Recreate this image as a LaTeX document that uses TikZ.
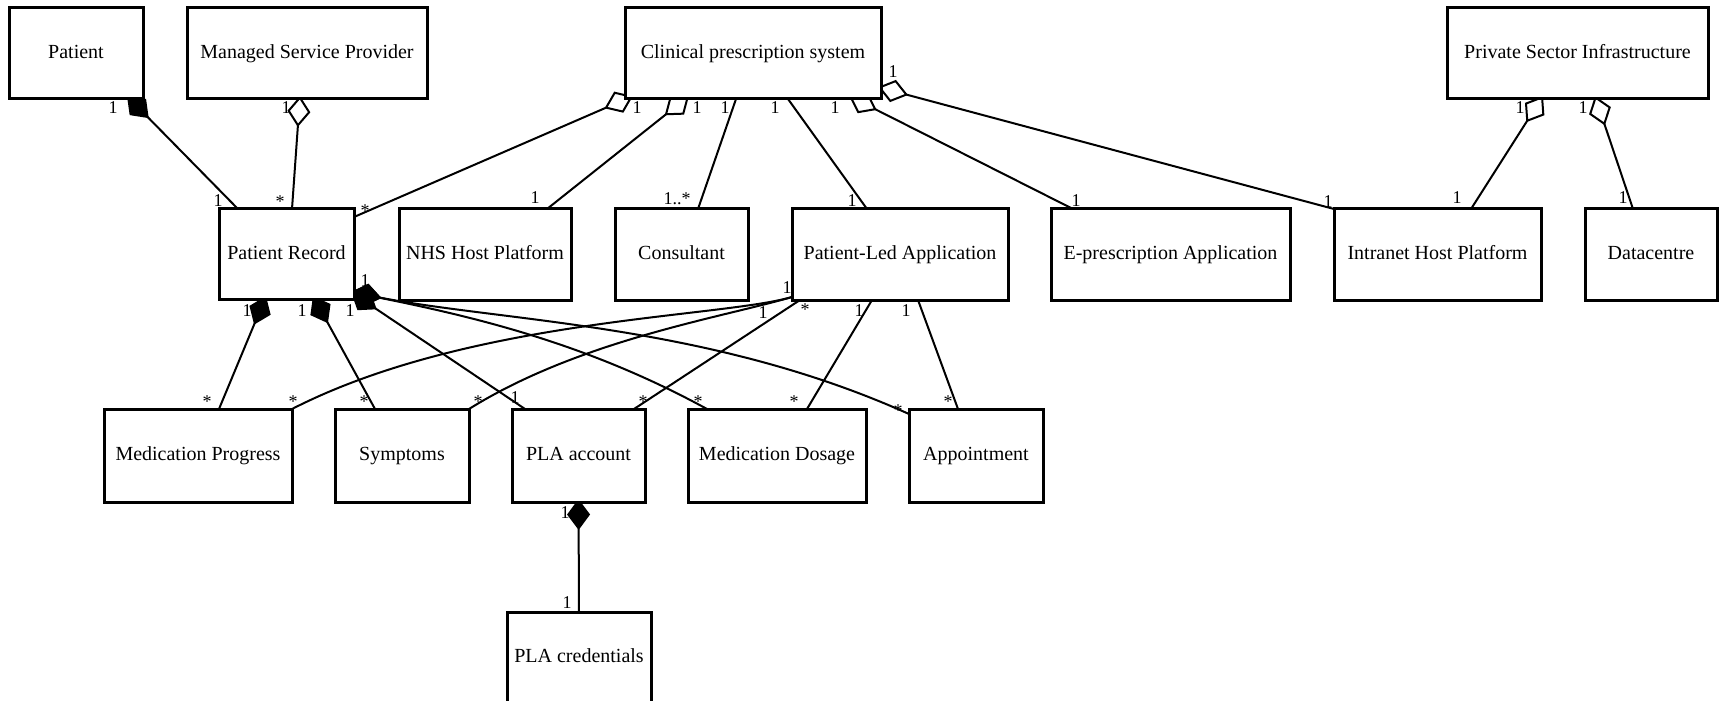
\documentclass[tikz,border=0pt]{standalone}
\usepackage{fontspec}
\setmainfont{Liberation Serif}
\usetikzlibrary{arrows.meta,calc}
\pgfdeclarelayer{background}
\pgfsetlayers{background,main}
\begin{document}
\begin{tikzpicture}[x=0.5pt,y=-0.5pt,
  box/.style 2 args={draw, line width=1.5pt, fill=white, inner sep=0pt, outer sep=0pt,
    minimum width=#1*0.5pt, minimum height=#2*0.5pt, text height=7pt, text depth=2pt,
    font=\fontsize{10pt}{12pt}\selectfont},
  conn/.style={line width=1pt},
  comp/.style={conn, {Diamond[length=15.5pt,width=11.5pt]}-},
  aggr/.style={conn, {Diamond[open,length=15.5pt,width=11.5pt]}-},
  lab/.style={anchor=base, inner sep=0pt, font=\fontsize{9pt}{10pt}\selectfont}]
\useasboundingbox (0,0) rectangle (1720,701);
% classes
\node[box={134}{91}] (patient) at (76,53.5) {Patient};
\node[box={240}{91}] (msp) at (307,53.5) {Managed Service Provider};
\node[box={256}{91}] (cps) at (753,53.5) {Clinical prescription system};
\node[box={261}{91}] (psi) at (1577.5,53.5) {Private Sector Infrastructure};
\node[box={135}{90}] (prec) at (286.5,254) {Patient Record};
\node[box={172}{91}] (nhs) at (485,254.5) {NHS Host Platform};
\node[box={133}{91}] (cons) at (681.5,254.5) {Consultant};
\node[box={216}{91}] (pla) at (900,254.5) {Patient-Led Application};
\node[box={239}{91}] (epa) at (1170.5,254.5) {E-prescription Application};
\node[box={207}{91}] (ihp) at (1437.5,254.5) {Intranet Host Platform};
\node[box={132}{91}] (dc) at (1651,254.5) {Datacentre};
\node[box={188}{93}] (mprog) at (198,455.5) {Medication Progress};
\node[box={134}{93}] (sym) at (402,455.5) {Symptoms};
\node[box={133}{93}] (placc) at (578.5,455.5) {PLA account};
\node[box={178}{93}] (mdos) at (777,455.5) {Medication Dosage};
\node[box={134}{93}] (appt) at (976,455.5) {Appointment};
\node[box={144}{91}] (plac) at (579,657.5) {PLA credentials};
% connectors
\begin{pgfonlayer}{background}
\draw[comp] ($(patient.south west)+(118,-3)$) -- ($(prec.north west)+(19,0)$);
\draw[aggr] ($(msp.south west)+(113,-3)$) -- ($(prec.north west)+(73,0)$);
\draw[aggr] ($(cps.south west)+(8,-3)$) -- ($(prec.north east)+(0,8)$);
\draw[aggr] ($(cps.south west)+(64,-3)$) -- ($(nhs.north west)+(148,0)$);
\draw[conn] ($(cps.south west)+(111,0)$) -- ($(cons.north west)+(83,0)$);
\draw[conn] ($(cps.south west)+(163,0)$) -- ($(pla.north west)+(75,0)$);
\draw[aggr] ($(cps.south west)+(224,-3)$) -- ($(epa.north west)+(22,0)$);
\draw[aggr] ($(cps.south east)+(-3,-12)$) -- (ihp.north west);
\draw[aggr] ($(psi.south west)+(96,-3)$) -- ($(ihp.north west)+(137,0)$);
\draw[aggr] ($(psi.south west)+(148,-3)$) -- ($(dc.north west)+(48,0)$);
\draw[comp] ($(prec.south west)+(47,-3)$) -- ($(mprog.north west)+(115,0)$);
\draw[comp] ($(prec.south west)+(94,-3)$) -- ($(sym.north west)+(40,0)$);
\draw[comp] ($(prec.south east)+(-3,-7)$) coordinate (pd) -- ($(placc.north west)+(13,0)$);
\draw[comp] (pd) .. controls (480,318) and (590,345) .. ($(mdos.north west)+(19,0)$);
\draw[comp] (pd) .. controls (506,322) and (709,324) .. ($(appt.north west)+(0,5)$);
\draw[conn] ($(pla.south west)+(0,-3)$) coordinate (pc) .. controls (720,318) and (470,318) .. (mprog.north east);
\draw[conn] (pc) .. controls (720,318) and (580,340) .. (sym.north east);
\draw[conn] ($(pla.south west)+(8,0)$) -- ($(placc.north east)+(-11,0)$);
\draw[conn] ($(pla.south west)+(80,0)$) -- ($(mdos.north west)+(119,0)$);
\draw[conn] ($(pla.south west)+(126,0)$) -- ($(appt.north west)+(49,0)$);
\draw[comp] ($(placc.south)+(0,-3)$) -- (plac.north);
\end{pgfonlayer}
% multiplicities
\node[lab] (l1) at (113,114) {1};
\node[lab] (l2) at (218,206) {1};
\node[lab] (l3) at (286,114) {1};
\node[lab] (l4) at (280,207) {*};
\node[lab] (l5) at (637,114) {1};
\node[lab] (l6) at (365,217) {*};
\node[lab] (l7) at (697,114) {1};
\node[lab] (l8) at (535,204) {1};
\node[lab] (l9) at (725,114) {1};
\node[lab] (l10) at (677,205) {1..*};
\node[lab] (l11) at (775,114) {1};
\node[lab] (l12) at (852,206) {1};
\node[lab] (l13) at (835,114) {1};
\node[lab] (l14) at (1076,206) {1};
\node[lab] (l15) at (893,78) {1};
\node[lab] (l16) at (1328,207) {1};
\node[lab] (l17) at (1520,114) {1};
\node[lab] (l18) at (1457,204) {1};
\node[lab] (l19) at (1583,114) {1};
\node[lab] (l20) at (1623,204) {1};
\node[lab] (l21) at (247,316) {1};
\node[lab] (l22) at (207,407) {*};
\node[lab] (l23) at (302,316) {1};
\node[lab] (l24) at (364,407) {*};
\node[lab] (l25) at (365,286) {1};
\node[lab] (l26) at (350,316) {1};
\node[lab] (l27) at (515,403) {1};
\node[lab] (l28) at (698,407) {*};
\node[lab] (l29) at (898,416) {*};
\node[lab] (l30) at (293,407) {*};
\node[lab] (l31) at (478,407) {*};
\node[lab] (l32) at (787,293) {1};
\node[lab] (l33) at (763,318) {1};
\node[lab] (l34) at (805,315) {*};
\node[lab] (l35) at (643,407) {*};
\node[lab] (l36) at (859,316) {1};
\node[lab] (l37) at (794,407) {*};
\node[lab] (l38) at (906,316) {1};
\node[lab] (l39) at (948,407) {*};
\node[lab] (l40) at (565,518) {1};
\node[lab] (l41) at (567,608) {1};
\end{tikzpicture}
\end{document}
